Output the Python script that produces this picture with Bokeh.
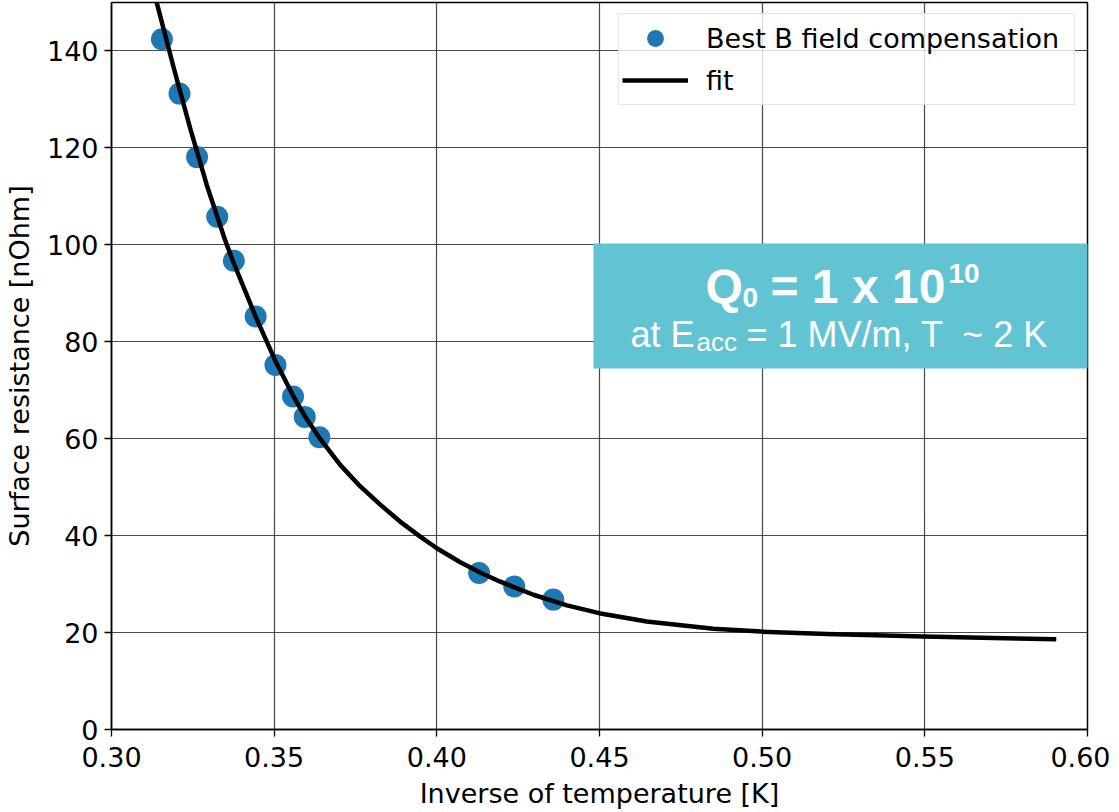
from bokeh.plotting import figure
from bokeh.models import (Range1d, Legend, LegendItem, Label, BoxAnnotation,
                          FixedTicker, NumeralTickFormatter, ColumnDataSource)
from bokeh.embed import file_html
from bokeh.resources import INLINE

# ---- data ----
meas_x = [0.3155, 0.3209, 0.3263, 0.3325, 0.3376, 0.3443, 0.3504, 0.3558,
          0.3594, 0.3639, 0.4130, 0.4238, 0.4358]
meas_rs = [142.4, 131.2, 118.1, 105.8, 96.7, 85.2, 75.2, 68.7,
           64.5, 60.3, 32.3, 29.5, 26.8]

fit_x = [0.3132, 0.3191, 0.3242, 0.3293, 0.3349, 0.3376, 0.3443, 0.3504,
         0.3558, 0.3594, 0.3642, 0.3703, 0.3764, 0.3826, 0.3887, 0.3949,
         0.4000, 0.4072, 0.4133, 0.4195, 0.4297, 0.4400, 0.4499, 0.4645,
         0.4850, 0.4997, 0.5199, 0.5496, 0.5711, 0.5904]
fit_rs = [151.8, 136.6, 124.0, 112.3, 101.0, 96.2, 85.2, 76.0,
          68.9, 64.7, 59.9, 54.6, 50.2, 46.4, 42.9, 39.8,
          37.4, 34.5, 32.4, 30.5, 27.8, 25.6, 24.0, 22.3,
          20.8, 20.2, 19.7, 19.2, 18.9, 18.6]

x_ticks = [0.30, 0.35, 0.40, 0.45, 0.50, 0.55, 0.60]
y_ticks = [0, 20, 40, 60, 80, 100, 120, 140]

x_label = "Inverse of temperature [K]"
y_label = "Surface resistance [nOhm]"
legend_labels = ["Best B field compensation", "fit"]

FONT = "DejaVu Sans"

p = figure(width=1110, height=812,
           x_range=Range1d(0.30, 0.60), y_range=Range1d(0, 150),
           output_backend="svg", toolbar_location=None,
           min_border_left=111, min_border_right=23,
           min_border_top=2, min_border_bottom=83)

p.background_fill_color = "white"
p.border_fill_color = "white"
p.outline_line_color = "black"
p.outline_line_width = 1.5
p.outline_line_alpha = 1.0

# axes
p.xaxis.ticker = FixedTicker(ticks=x_ticks)
p.yaxis.ticker = FixedTicker(ticks=y_ticks)
p.xaxis.formatter = NumeralTickFormatter(format="0.00")
for ax in (p.xaxis, p.yaxis):
    ax.major_label_text_font = FONT
    ax.major_label_text_font_size = "27px"
    ax.major_label_text_color = "black"
    ax.axis_label_text_font = FONT
    ax.axis_label_text_font_size = "27px"
    ax.axis_label_text_font_style = "normal"
    ax.axis_label_text_color = "black"
    ax.axis_line_color = "black"
    ax.axis_line_width = 1.5
    ax.major_tick_line_color = "black"
    ax.major_tick_line_width = 1.3
    ax.major_tick_out = 7
    ax.major_tick_in = 0
    ax.minor_tick_line_color = None
p.xaxis.major_label_standoff = 10
p.yaxis.major_label_standoff = 6
p.xaxis.axis_label = x_label
p.yaxis.axis_label = y_label
p.xaxis.axis_label_standoff = 8
p.yaxis.axis_label_standoff = 9

# grid
p.xgrid.ticker = FixedTicker(ticks=x_ticks)
p.ygrid.ticker = FixedTicker(ticks=y_ticks)
p.grid.grid_line_color = "#2a2a2a"
p.grid.grid_line_alpha = 0.85
p.grid.grid_line_width = 1.2

src_meas = ColumnDataSource(dict(x=meas_x, y=meas_rs))
src_fit = ColumnDataSource(dict(x=fit_x, y=fit_rs))

sc = p.scatter("x", "y", source=src_meas, size=22, marker="circle",
               fill_color="#1f77b4", line_color="#1f77b4", line_width=0)
ln = p.line("x", "y", source=src_fit, line_color="black", line_width=4.5,
            line_join="round")

legend = Legend(items=[LegendItem(label=legend_labels[0], renderers=[sc]),
                       LegendItem(label=legend_labels[1], renderers=[ln])],
                location=(507, 624),
                glyph_width=66, glyph_height=42, spacing=0, padding=3,
                label_standoff=18, label_width=365, margin=0,
                label_text_font=FONT, label_text_font_size="27px",
                label_text_color="black",
                border_line_color="#cccccc", border_line_width=1.5,
                background_fill_color="white", background_fill_alpha=0.8)
p.add_layout(legend)

# annotation box
box = BoxAnnotation(left=482, right=990, top=486, bottom=361,
                    left_units="screen", right_units="screen",
                    top_units="screen", bottom_units="screen",
                    fill_color="#62C4D3", fill_alpha=1.0, line_color=None)
p.add_layout(box)

ANN = "Liberation Sans"
def lab(x, y, text, size, bold=False):
    l = Label(x=x, y=y, x_units="screen", y_units="screen", text=text,
              text_font=ANN, text_font_size=size,
              text_font_style="bold" if bold else "normal",
              text_color="white", text_baseline="alphabetic", text_align="left")
    p.add_layout(l)

lab(594, 443, "Q", "48px", True)
lab(631, 432, "0", "28px", True)
lab(659, 443, "= 1 x 10", "48px", True)
lab(837, 456, "10", "28px", True)
lab(519, 395, "at E", "36px")
lab(585, 388, "acc", "26px")
lab(635, 395, "= 1 MV/m, T \u00a0~ 2 K", "36px")

open("out.html", "w").write(file_html(p, INLINE))
